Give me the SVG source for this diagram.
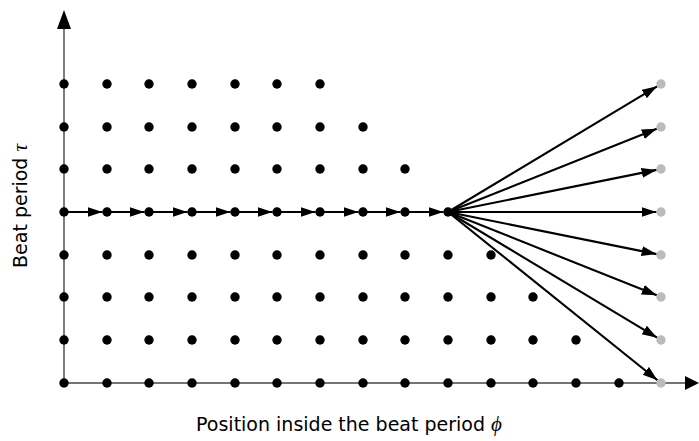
<svg xmlns="http://www.w3.org/2000/svg" width="699" height="441" viewBox="0 0 699 441">
<style>
.ax{stroke:#444;stroke-width:1.4;fill:none}
.ar{stroke:#000;stroke-width:2.1;fill:none;marker-end:url(#ah)}
.d{fill:#000}
.g{fill:#bbb}
.lbl{font-family:"DejaVu Sans","Liberation Sans",sans-serif;font-size:19px;fill:#000}
.m{font-family:"Liberation Serif","DejaVu Serif",serif;font-style:italic}
</style>
<defs>
<marker id="ah" markerUnits="userSpaceOnUse" markerWidth="17" markerHeight="12" refX="15" refY="5" orient="auto">
<path d="M0,0 L15,5 L0,10 z" fill="#000"/>
</marker>
<circle id="dot" r="4.7"/>
</defs>
<g id="axes">
<line class="ax" x1="64" y1="383" x2="64" y2="26"/>
<path d="M57,29 L64,10 L71,29 z" fill="#000"/>
<line class="ax" x1="64" y1="383" x2="688" y2="383"/>
<path d="M685,376 L699,383 L685,390 z" fill="#000"/>
</g>
<g id="connectors">
<line class="ar" x1="64" y1="212" x2="102.5" y2="212"/>
<line class="ar" x1="107" y1="212" x2="144.5" y2="212"/>
<line class="ar" x1="149" y1="212" x2="187.5" y2="212"/>
<line class="ar" x1="192" y1="212" x2="230.5" y2="212"/>
<line class="ar" x1="235" y1="212" x2="272.5" y2="212"/>
<line class="ar" x1="277" y1="212" x2="315.5" y2="212"/>
<line class="ar" x1="320" y1="212" x2="358.5" y2="212"/>
<line class="ar" x1="363" y1="212" x2="400.5" y2="212"/>
<line class="ar" x1="405" y1="212" x2="443.5" y2="212"/>
<line class="ar" x1="448" y1="212" x2="657.1" y2="86.3"/>
<line class="ar" x1="448" y1="212" x2="656.8" y2="128.7"/>
<line class="ar" x1="448" y1="212" x2="656.6" y2="169.9"/>
<line class="ar" x1="448" y1="212" x2="656.5" y2="212"/>
<line class="ar" x1="448" y1="212" x2="656.6" y2="254.1"/>
<line class="ar" x1="448" y1="212" x2="656.8" y2="295.3"/>
<line class="ar" x1="448" y1="212" x2="657.1" y2="337.7"/>
<line class="ar" x1="448" y1="212" x2="657.5" y2="380.2"/>
</g>
<g id="row-7" class="d">
<use href="#dot" x="64" y="84"/><use href="#dot" x="107" y="84"/><use href="#dot" x="149" y="84"/><use href="#dot" x="192" y="84"/><use href="#dot" x="235" y="84"/><use href="#dot" x="277" y="84"/><use href="#dot" x="320" y="84"/>
</g>
<g id="row-6" class="d">
<use href="#dot" x="64" y="127"/><use href="#dot" x="107" y="127"/><use href="#dot" x="149" y="127"/><use href="#dot" x="192" y="127"/><use href="#dot" x="235" y="127"/><use href="#dot" x="277" y="127"/><use href="#dot" x="320" y="127"/><use href="#dot" x="363" y="127"/>
</g>
<g id="row-5" class="d">
<use href="#dot" x="64" y="169"/><use href="#dot" x="107" y="169"/><use href="#dot" x="149" y="169"/><use href="#dot" x="192" y="169"/><use href="#dot" x="235" y="169"/><use href="#dot" x="277" y="169"/><use href="#dot" x="320" y="169"/><use href="#dot" x="363" y="169"/><use href="#dot" x="405" y="169"/>
</g>
<g id="row-4" class="d">
<use href="#dot" x="64" y="212"/><use href="#dot" x="107" y="212"/><use href="#dot" x="149" y="212"/><use href="#dot" x="192" y="212"/><use href="#dot" x="235" y="212"/><use href="#dot" x="277" y="212"/><use href="#dot" x="320" y="212"/><use href="#dot" x="363" y="212"/><use href="#dot" x="405" y="212"/><use href="#dot" x="448" y="212"/>
</g>
<g id="row-3" class="d">
<use href="#dot" x="64" y="255"/><use href="#dot" x="107" y="255"/><use href="#dot" x="149" y="255"/><use href="#dot" x="192" y="255"/><use href="#dot" x="235" y="255"/><use href="#dot" x="277" y="255"/><use href="#dot" x="320" y="255"/><use href="#dot" x="363" y="255"/><use href="#dot" x="405" y="255"/><use href="#dot" x="448" y="255"/><use href="#dot" x="491" y="255"/>
</g>
<g id="row-2" class="d">
<use href="#dot" x="64" y="297"/><use href="#dot" x="107" y="297"/><use href="#dot" x="149" y="297"/><use href="#dot" x="192" y="297"/><use href="#dot" x="235" y="297"/><use href="#dot" x="277" y="297"/><use href="#dot" x="320" y="297"/><use href="#dot" x="363" y="297"/><use href="#dot" x="405" y="297"/><use href="#dot" x="448" y="297"/><use href="#dot" x="491" y="297"/><use href="#dot" x="533" y="297"/>
</g>
<g id="row-1" class="d">
<use href="#dot" x="64" y="340"/><use href="#dot" x="107" y="340"/><use href="#dot" x="149" y="340"/><use href="#dot" x="192" y="340"/><use href="#dot" x="235" y="340"/><use href="#dot" x="277" y="340"/><use href="#dot" x="320" y="340"/><use href="#dot" x="363" y="340"/><use href="#dot" x="405" y="340"/><use href="#dot" x="448" y="340"/><use href="#dot" x="491" y="340"/><use href="#dot" x="533" y="340"/><use href="#dot" x="576" y="340"/>
</g>
<g id="row-0" class="d">
<use href="#dot" x="64" y="383"/><use href="#dot" x="107" y="383"/><use href="#dot" x="149" y="383"/><use href="#dot" x="192" y="383"/><use href="#dot" x="235" y="383"/><use href="#dot" x="277" y="383"/><use href="#dot" x="320" y="383"/><use href="#dot" x="363" y="383"/><use href="#dot" x="405" y="383"/><use href="#dot" x="448" y="383"/><use href="#dot" x="491" y="383"/><use href="#dot" x="533" y="383"/><use href="#dot" x="576" y="383"/><use href="#dot" x="619" y="383"/>
</g>
<g id="targets" class="g">
<use href="#dot" x="661" y="84"/><use href="#dot" x="661" y="127"/><use href="#dot" x="661" y="169"/><use href="#dot" x="661" y="212"/><use href="#dot" x="661" y="255"/><use href="#dot" x="661" y="297"/><use href="#dot" x="661" y="340"/><use href="#dot" x="661" y="383"/>
</g>
<g id="labels">
<text class="lbl" x="349" y="431" text-anchor="middle">Position inside the beat period <tspan class="m" font-size="21">ϕ</tspan></text>
<text class="lbl" transform="translate(27,206) rotate(-90)" text-anchor="middle">Beat  period <tspan class="m" font-size="21">τ</tspan></text>
</g>
</svg>
